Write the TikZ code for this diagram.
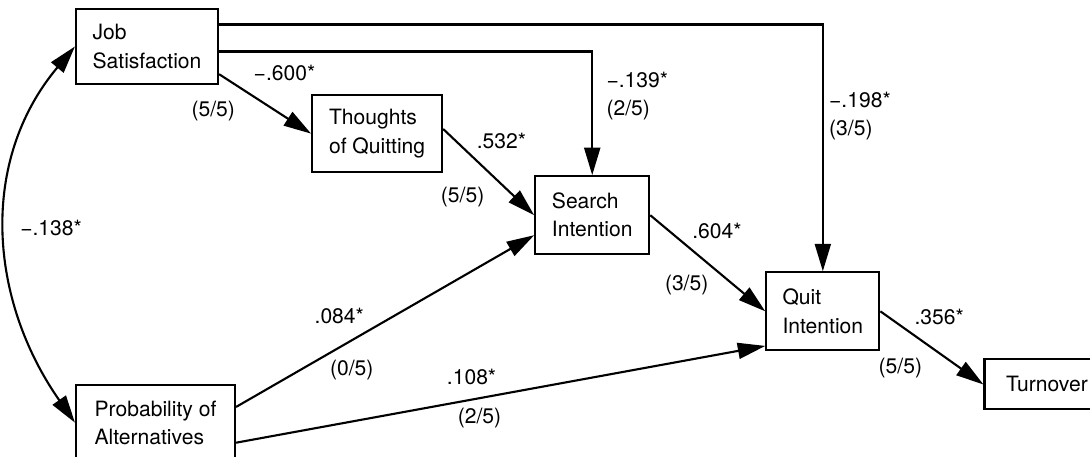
\documentclass[tikz,border=0pt]{standalone}
\usepackage{fontspec}
\setmainfont{TeX Gyre Heros}
\usetikzlibrary{positioning, arrows.meta}

\tikzset{
  var/.style={draw, rectangle, line width=1.2pt, align=left, minimum height=1.54cm, inner sep=2pt},
  coef/.style={inner sep=3pt, align=left},
  frac/.style={inner sep=5pt},
}

\begin{document}
\begin{tikzpicture}[>={Triangle[length=0.55cm, width=0.32cm]}, line width=1.2pt, font=\fontsize{12}{16}\selectfont]
  \useasboundingbox (0,0) rectangle (21.8,-9.12);
  \clip (0,0) rectangle (21.8,-9.12);

  % variables
  \node[var, minimum width=2.84cm, minimum height=1.5cm] (js) at (2.94,-0.93) {Job\\Satisfaction};
  \node[var, minimum width=2.6cm] (th) [below right=0.18cm and 1.84cm of js] {Thoughts\\of Quitting};
  \node[var, minimum width=2.28cm, minimum height=1.56cm] (se) [below right=0.04cm and 1.82cm of th] {Search\\Intention};
  \node[var, minimum width=2.26cm, minimum height=1.56cm] (qu) [below right=0.32cm and 2.3cm of se] {Quit\\Intention};
  \node[var, minimum width=2.5cm, minimum height=1cm] (tu) [below right=0.14cm and 2.06cm of qu] {Turnover};
  \node[var, minimum width=3.18cm, minimum height=1.5cm, below=5.98cm of js.south west, anchor=north west] (prob) {Probability of\\Alternatives};

  % paths between them
  \draw[->] (js.-21) -- (th.west)
    node[coef, inner sep=5pt, pos=.27, above right] (b-js-th) {−.600*}
    node[frac, pos=.28, below left] (n-js-th) {(5/5)};
  \draw[->] (th.4) -- (se.west)
    node[coef, pos=.3, above right] (b-th-se) {.532*}
    node[frac, pos=.56, below left] (n-th-se) {(5/5)};
  \draw[->] (se.east) -- (qu.west)
    node[coef, pos=.31, above right] (b-se-qu) {.604*}
    node[frac, inner sep=3pt, pos=.56, below left] (n-se-qu) {(3/5)};
  \draw[->] (qu.east) -- (tu.west)
    node[coef, pos=.27, above right] (b-qu-tu) {.356*}
    node[frac, pos=.5, below left] (n-qu-tu) {(5/5)};
  \draw[->] (prob.11) -- (se.199)
    node[coef, pos=.45, above left] (b-pr-se) {.084*}
    node[frac, inner sep=2pt, pos=.3, below right] (n-pr-se) {(0/5)};
  \draw[->] (prob.-14) -- (qu.211)
    node[coef, pos=.445, above=5pt] (b-pr-qu) {.108*}
    node[frac, pos=.46, below] (n-pr-qu) {(2/5)};

  % direct paths from job satisfaction
  \draw[->] (js.-4) -| (se.north)
    node[coef, pos=.68, right=0.16cm] (b-js-se) {−.139*\\(2/5)};
  \draw[->] (js.17) -| (qu.north)
    node[coef, pos=.685, right] (b-js-qu) {−.198*\\(3/5)};

  % correlation
  \draw[<->] (js.west) .. controls +(-130:3cm) and +(125:3cm) .. (prob.west)
    node[coef, pos=.49, right=0.15cm] (b-js-pr) {−.138*};
\end{tikzpicture}
\end{document}
